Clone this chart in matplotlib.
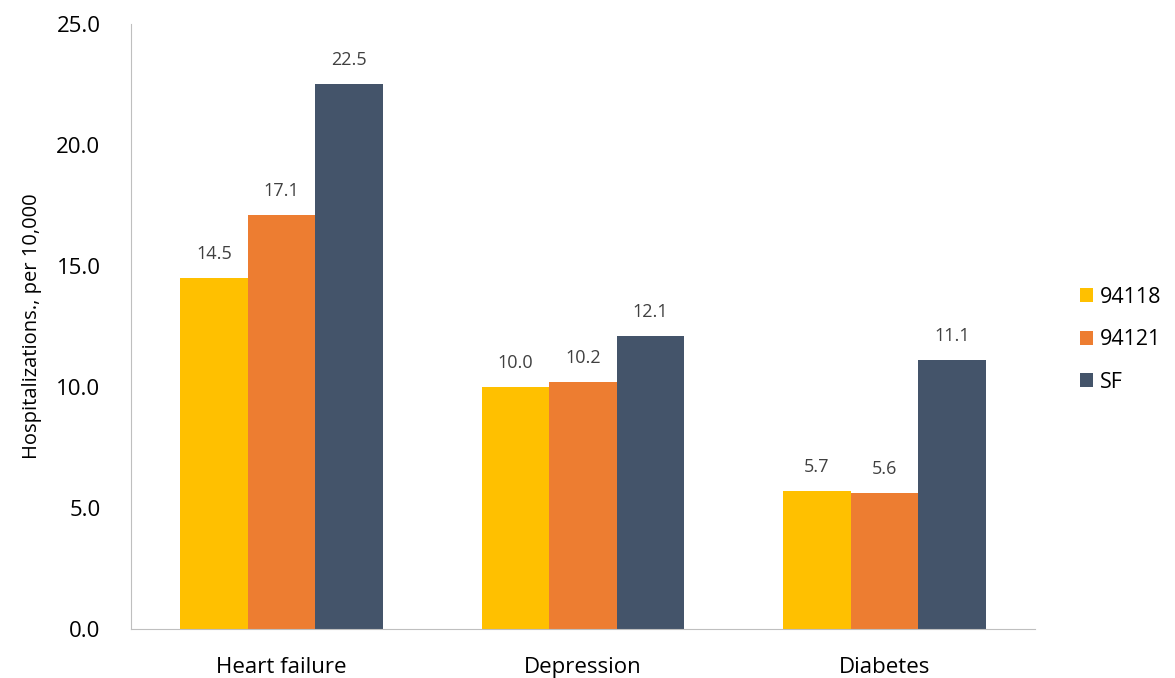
import numpy as np
import matplotlib.pyplot as plt

plt.rcParams['font.family'] = ['Open Sans', 'DejaVu Sans']

categories = ["Heart failure", "Depression", "Diabetes"]
series_names = ["94118", "94121", "SF"]
vals_94118 = [14.5, 10.0, 5.7]
vals_94121 = [17.1, 10.2, 5.6]
vals_sf = [22.5, 12.1, 11.1]
colors = ["#FFC000", "#ED7D31", "#44546A"]

fig = plt.figure(figsize=(11.75, 6.78), dpi=100)
ax = fig.add_axes([0.1115, 0.0723, 0.7695, 0.8923])

x = np.arange(len(categories))
width = 0.224
for i, (vals, name) in enumerate(zip([vals_94118, vals_94121, vals_sf], series_names)):
    bars = ax.bar(x + (i - 1) * width, vals, width, color=colors[i], label=name)
    for b, v in zip(bars, vals):
        ax.annotate(f"{v:.1f}", (b.get_x() + b.get_width() / 2, v),
                    xytext=(0, 11), textcoords="offset points",
                    ha="center", va="bottom", fontsize=13, color="#404040")

ax.set_xlim(-0.5, 2.5)
ax.set_ylim(0, 25)
ax.set_yticks(np.arange(0, 25.1, 5))
ax.set_yticklabels([f"{t:.1f}" for t in np.arange(0, 25.1, 5)], fontsize=16)
ax.set_xticks(x)
ax.set_xticklabels(categories, fontsize=16)
ax.tick_params(length=0)
ax.tick_params(axis="x", pad=20)
ax.tick_params(axis="y", pad=22)
ax.set_ylabel("Hospitalizations., per 10,000", fontsize=14.5, labelpad=10)

for s in ["top", "right"]:
    ax.spines[s].set_visible(False)
for s in ["left", "bottom"]:
    ax.spines[s].set_color("#BFBFBF")

ax.legend(loc="center left", bbox_to_anchor=(1.05, 0.478), frameon=False,
          fontsize=15.5, handlelength=0.6, handleheight=0.6, handletextpad=0.3,
          labelspacing=1.0, borderaxespad=0, borderpad=0)

plt.savefig("out.png", dpi=100)
